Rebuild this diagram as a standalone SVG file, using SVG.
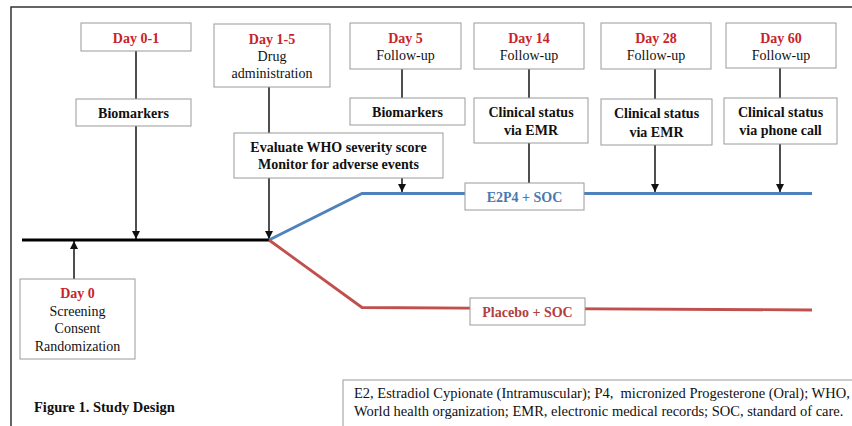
<svg xmlns="http://www.w3.org/2000/svg" width="852" height="426" viewBox="0 0 852 426">
<defs>
<marker id="ah" viewBox="0 0 8 8" refX="8" refY="4" markerWidth="8" markerHeight="8" markerUnits="userSpaceOnUse" orient="auto">
<path d="M0,0 L8,4 L0,8 Z" fill="#111"/>
</marker>
<style>
.box{fill:#fff;stroke:#9a9a9a;stroke-width:1}
.t{font-family:"Liberation Serif","Times New Roman",serif;font-size:14px;fill:#111;text-anchor:middle}
.b{font-weight:bold}
.red{fill:#c8232a;font-weight:bold}
.con{stroke:#222;stroke-width:1.6;fill:none}
.lg{text-anchor:start;font-size:14.5px}
</style>
</defs>
<rect width="852" height="426" fill="#fff"/>
<path d="M11,426 V7 H852" fill="none" stroke="#333" stroke-width="1.5"/>

<g id="connectors">
<line class="con" x1="136" y1="51" x2="136" y2="99"/>
<line class="con" x1="136" y1="126" x2="136" y2="239" marker-end="url(#ah)"/>
<line class="con" x1="269" y1="87" x2="269" y2="133"/>
<line class="con" x1="269" y1="178" x2="269" y2="239" marker-end="url(#ah)"/>
<line class="con" x1="402" y1="69" x2="402" y2="98"/>
<line class="con" x1="402" y1="178" x2="402" y2="192" marker-end="url(#ah)"/>
<line class="con" x1="529" y1="69" x2="529" y2="98"/>
<line class="con" x1="529" y1="143" x2="529" y2="183"/>
<line class="con" x1="655" y1="69" x2="655" y2="99"/>
<line class="con" x1="655" y1="145" x2="655" y2="192" marker-end="url(#ah)"/>
<line class="con" x1="780" y1="68" x2="780" y2="98"/>
<line class="con" x1="780" y1="144" x2="780" y2="192" marker-end="url(#ah)"/>
<line class="con" x1="74" y1="279" x2="74" y2="241" marker-end="url(#ah)"/>
<line x1="22" y1="240" x2="269" y2="240" stroke="#000" stroke-width="3"/>
<polyline points="269,240 362,193.5 812,193.5" fill="none" stroke="#4f81bd" stroke-width="2.8"/>
<polyline points="269,240 362,307.5 812,310" fill="none" stroke="#c0504d" stroke-width="2.8"/>
</g>

<g id="day01"><rect class="box" x="81" y="23" width="110" height="28"/><text class="t red" x="136" y="43">Day 0-1</text></g>
<g id="bio1"><rect class="box" x="76" y="99" width="115" height="27"/><text class="t b" x="133.5" y="118">Biomarkers</text></g>
<g id="day15"><rect class="box" x="214" y="24" width="116" height="63"/><text class="t red" x="272" y="44">Day 1-5</text><text class="t" x="272" y="61">Drug</text><text class="t" x="272" y="78">administration</text></g>
<g id="evaluate"><rect class="box" x="234" y="133" width="209" height="45"/><text class="t b" x="338.5" y="152">Evaluate WHO severity score</text><text class="t b" x="338.5" y="169">Monitor for adverse events</text></g>
<g id="day5"><rect class="box" x="350" y="23" width="111" height="46"/><text class="t red" x="405.5" y="43">Day 5</text><text class="t" x="405.5" y="60">Follow-up</text></g>
<g id="bio2"><rect class="box" x="350" y="98" width="115" height="27"/><text class="t b" x="407.5" y="117">Biomarkers</text></g>
<g id="day14"><rect class="box" x="474" y="23" width="110" height="46"/><text class="t red" x="529" y="43">Day 14</text><text class="t" x="529" y="60">Follow-up</text></g>
<g id="clin14"><rect class="box" x="474" y="98" width="114" height="45"/><text class="t b" x="531" y="117">Clinical status</text><text class="t b" x="531" y="135">via EMR</text></g>
<g id="day28"><rect class="box" x="601" y="23" width="110" height="46"/><text class="t red" x="656" y="43">Day 28</text><text class="t" x="656" y="60">Follow-up</text></g>
<g id="clin28"><rect class="box" x="601" y="99" width="111" height="46"/><text class="t b" x="656.5" y="118">Clinical status</text><text class="t b" x="656.5" y="137">via EMR</text></g>
<g id="day60"><rect class="box" x="726" y="23" width="110" height="45"/><text class="t red" x="781" y="43">Day 60</text><text class="t" x="781" y="60">Follow-up</text></g>
<g id="clin60"><rect class="box" x="724" y="98" width="113" height="46"/><text class="t b" x="780.5" y="117">Clinical status</text><text class="t b" x="780.5" y="135">via phone call</text></g>
<g id="e2p4"><rect class="box" x="465" y="183" width="119" height="27"/><text class="t b" x="524.5" y="202" style="fill:#4a78b0">E2P4 + SOC</text></g>
<g id="placebo"><rect class="box" x="470" y="298" width="115" height="27"/><text class="t b" style="fill:#b2403e" x="527.5" y="317">Placebo + SOC</text></g>
<g id="day0"><rect class="box" x="20" y="279" width="115" height="80"/><text class="t red" x="77.5" y="298">Day 0</text><text class="t" x="77.5" y="316">Screening</text><text class="t" x="77.5" y="333">Consent</text><text class="t" x="77.5" y="351">Randomization</text></g>

<text class="t b" x="34" y="412" style="text-anchor:start;font-size:14.5px">Figure 1. Study Design</text>
<g id="legend"><rect class="box" x="343" y="380" width="520" height="50"/>
<text class="t lg" x="354" y="398" xml:space="preserve">E2, Estradiol Cypionate (Intramuscular); P4,  micronized Progesterone (Oral); WHO,</text>
<text class="t lg" x="354" y="416">World health organization; EMR, electronic medical records; SOC, standard of care.</text></g>
</svg>
